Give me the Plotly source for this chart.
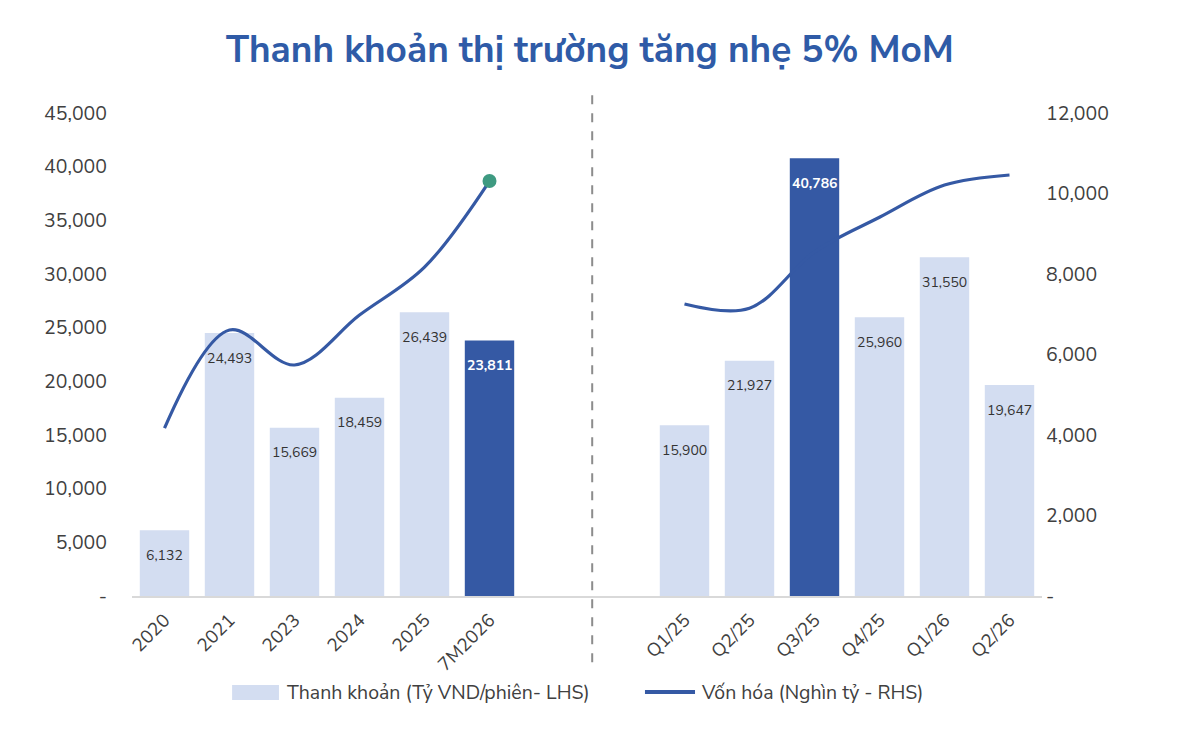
import plotly.graph_objects as go

# categories (two blank slots separate the yearly and quarterly groups)
categories = ["2020", "2021", "2023", "2024", "2025", "7M2026", "gap1", "gap2",
              "Q1/25", "Q2/25", "Q3/25", "Q4/25", "Q1/26", "Q2/26"]
tick_labels = ["2020", "2021", "2023", "2024", "2025", "7M2026", "", "",
               "Q1/25", "Q2/25", "Q3/25", "Q4/25", "Q1/26", "Q2/26"]
liquidity = [6132, 24493, 15669, 18459, 26439, 23811, None, None,
             15900, 21927, 40786, 25960, 31550, 19647]
market_cap = [4170, 6610, 5740, 6980, 8170, 10310, None, None,
              7255, 7150, 8550, 9410, 10210, 10460]
highlight = ["7M2026", "Q3/25"]
legend_bar = "Thanh khoản (Tỷ VND/phiên- LHS)"
legend_line = "Vốn hóa (Nghìn tỷ - RHS)"

left_ticks = [0, 5000, 10000, 15000, 20000, 25000, 30000, 35000, 40000, 45000]
right_ticks = [0, 2000, 4000, 6000, 8000, 10000, 12000]

light_blue = "#D3DDF1"
dark_blue = "#3559A4"
green = "#3E9A81"
text_grey = "#404040"
font_main = "Nunito Sans, Lato, Open Sans, sans-serif"

bar_colors = [dark_blue if c in highlight else light_blue for c in categories]

fig = go.Figure()

fig.add_trace(go.Bar(
    x=categories, y=liquidity,
    marker=dict(color=bar_colors, line=dict(width=0)),
    name=legend_bar, showlegend=False,
    yaxis="y",
))

fig.add_trace(go.Scatter(
    x=categories, y=market_cap,
    mode="lines",
    line=dict(color=dark_blue, width=3.2, shape="spline", smoothing=1.0),
    connectgaps=False,
    name=legend_line, showlegend=False,
    yaxis="y2",
))

# green dot at end of yearly series
fig.add_trace(go.Scatter(
    x=[categories[5]], y=[market_cap[5]],
    mode="markers",
    marker=dict(color=green, size=14),
    showlegend=False,
    yaxis="y2",
))

# value labels inside top of bars (x given as category index)
for i, (c, v) in enumerate(zip(categories, liquidity)):
    if v is None:
        continue
    dark = c in highlight
    fig.add_annotation(
        x=i, xref="x", y=v, yref="y", text=f"<b>{v:,}</b>" if dark else f"{v:,}",
        showarrow=False, yshift=-25,
        font=dict(size=14, color="white" if dark else "#333333", family=font_main),
    )

# dashed separator
fig.add_shape(type="line", xref="x", yref="paper",
              x0=6.58, x1=6.58, y0=-0.137, y1=1.05,
              line=dict(color="#8c8c8c", width=2, dash="dash"))

# hand-drawn legend (wide swatches like the original)
fig.add_shape(type="rect", xref="paper", yref="paper",
              x0=0.110, x1=0.1615, y0=-0.2153, y1=-0.1843,
              fillcolor=light_blue, line=dict(width=0))
fig.add_annotation(x=0.168, y=-0.199, xref="paper", yref="paper",
                   xanchor="left", yanchor="middle", showarrow=False,
                   text=legend_bar, font=dict(size=19.5, color=text_grey))
fig.add_shape(type="line", xref="paper", yref="paper",
              x0=0.5637, x1=0.6187, y0=-0.199, y1=-0.199,
              line=dict(color=dark_blue, width=4))
fig.add_annotation(x=0.6232, y=-0.199, xref="paper", yref="paper",
                   xanchor="left", yanchor="middle", showarrow=False,
                   text=legend_line, font=dict(size=19.5, color=text_grey))

fig.update_layout(
    width=1200, height=754,
    paper_bgcolor="white", plot_bgcolor="white",
    margin=dict(l=124, r=166, t=105, b=166),
    title=dict(text="<b>Thanh khoản thị trường tăng nhẹ 5% MoM</b>",
               x=0.485, xanchor="center", y=0.945, yanchor="middle",
               font=dict(size=37, color="#2F5BA7", family=font_main)),
    bargap=0.24,
    showlegend=False,
    font=dict(family=font_main, color=text_grey),
    xaxis=dict(
        type="category", categoryorder="array", categoryarray=categories,
        tickvals=categories, ticktext=tick_labels,
        range=[-0.5, len(categories) - 0.5],
        tickangle=-45, showgrid=False,
        showline=True, linecolor="#D9D9D9", linewidth=2,
        ticks="outside", ticklen=4, tickcolor="white",
        tickfont=dict(size=18.5, color=text_grey),
    ),
    yaxis=dict(
        range=[0, 45000], tickvals=left_ticks,
        ticktext=["-" if t == 0 else f"{t:,}" for t in left_ticks],
        showgrid=False, zeroline=False, ticklabelstandoff=24,
        tickfont=dict(size=19.5, color=text_grey),
    ),
    yaxis2=dict(
        range=[0, 12000], tickvals=right_ticks,
        ticktext=["-" if t == 0 else f"{t:,}" for t in right_ticks],
        overlaying="y", side="right", showgrid=False, zeroline=False,
        ticklabelstandoff=3,
        tickfont=dict(size=19.5, color=text_grey),
    ),
)

fig.write_html("out.html")
